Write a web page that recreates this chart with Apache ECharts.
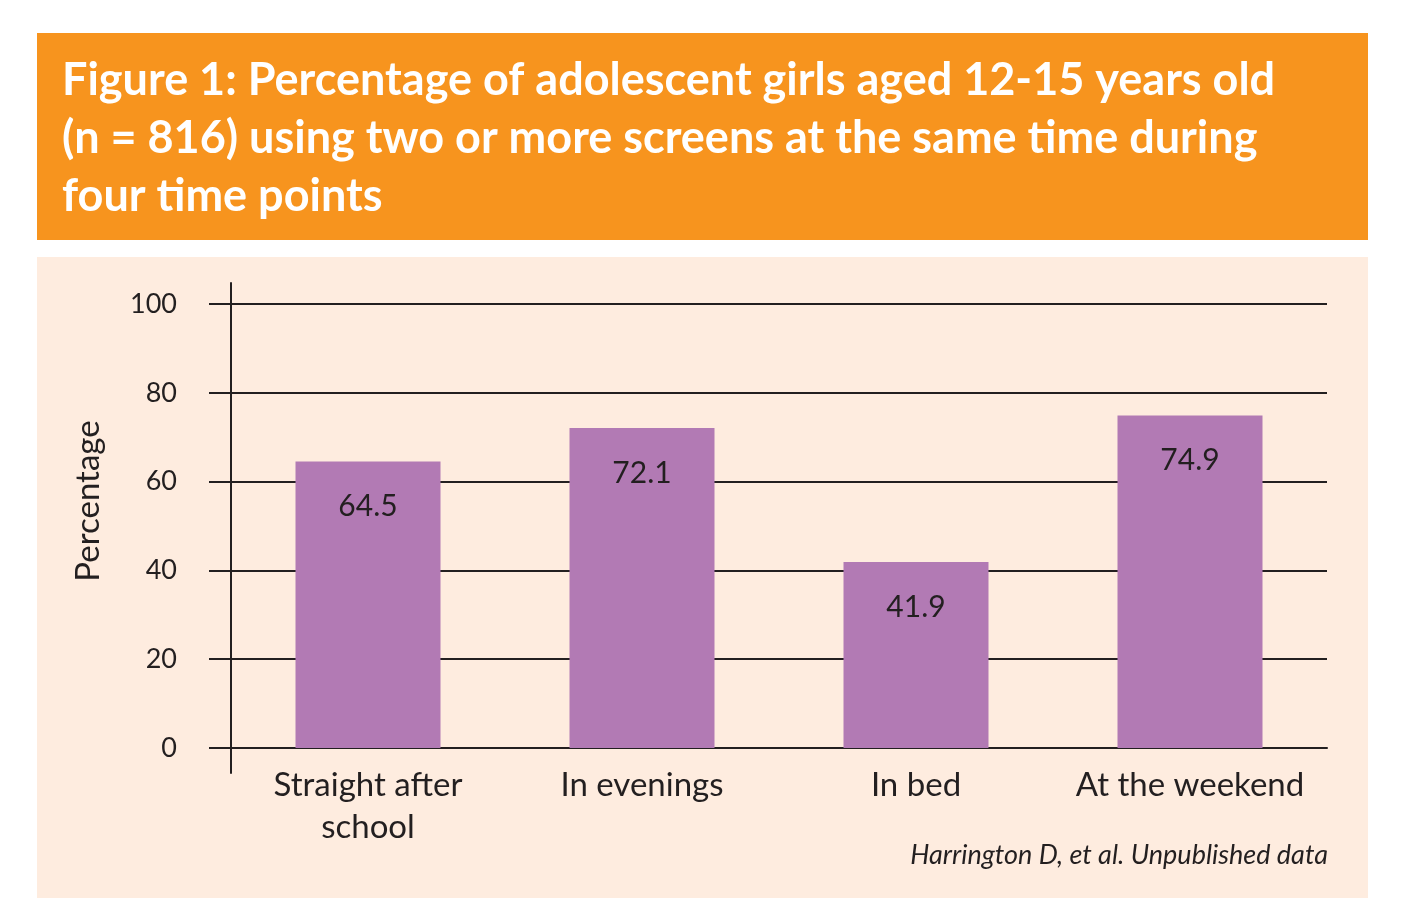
<!DOCTYPE html>
<html>
<head>
<meta charset="utf-8">
<script src="https://cdn.jsdelivr.net/npm/echarts@6/dist/echarts.min.js"></script>
<style>
html,body{margin:0;padding:0;background:#ffffff;}
#chart{width:1406px;height:900px;}
</style>
</head>
<body>
<div id="chart"></div>
<script>
var titleText = 'Figure 1: Percentage of adolescent girls aged 12-15 years old\n(n = 816) using two or more screens at the same time during\nfour time points';
var categories = ['Straight after\nschool', 'In evenings', 'In bed', 'At the weekend'];
var values = [64.5, 72.1, 41.9, 74.9];
var yTicks = [0, 20, 40, 60, 80, 100];
var yAxisName = 'Percentage';
var sourceText = 'Harrington D, et al. Unpublished data';

var dark = '#231f20';
var font = 'Lato';
var chart = echarts.init(document.getElementById('chart'));
chart.setOption({
  backgroundColor: '#ffffff',
  animation: false,
  title: {
    text: titleText,
    left: 62, top: 51, padding: 0,
    textStyle: { color: '#ffffff', fontFamily: font, fontWeight: 'bold', fontSize: 45, lineHeight: 58 }
  },
  graphic: [
    { type: 'rect', z: -10, silent: true, shape: { x: 37, y: 33, width: 1331, height: 207 }, style: { fill: '#f7941e' } },
    { type: 'rect', z: -10, silent: true, shape: { x: 37, y: 257, width: 1331, height: 641 }, style: { fill: '#feecdf' } },
    { type: 'text', rotation: Math.PI / 2, x: 88, y: 501, style: { text: yAxisName, fontFamily: font, fontSize: 33, fill: dark, textAlign: 'center', textVerticalAlign: 'middle' } },
    { type: 'text', x: 1328, y: 855, style: { text: sourceText, fontFamily: font, fontStyle: 'italic', fontSize: 27, fill: dark, textAlign: 'right', textVerticalAlign: 'middle' } }
  ],
  grid: [
    { left: 231, right: 79, top: 304, bottom: 152 },
    { left: 231, right: 79, top: 283, bottom: 127 }
  ],
  xAxis: [
    {
      type: 'category', gridIndex: 0, data: categories, boundaryGap: true,
      axisLine: { show: true, lineStyle: { color: dark, width: 2 } },
      axisTick: { show: false },
      axisLabel: { color: dark, fontFamily: font, fontSize: 33, lineHeight: 42, margin: 16, interval: 0 }
    },
    { type: 'value', gridIndex: 1, min: 0, max: 1, show: false }
  ],
  yAxis: [
    {
      type: 'value', gridIndex: 0, min: 0, max: 100, interval: 20,
      axisLine: { show: false },
      axisTick: { show: true, length: 22, inside: false, lineStyle: { color: dark, width: 2 } },
      splitLine: { show: true, lineStyle: { color: dark, width: 2 } },
      axisLabel: { color: dark, fontFamily: font, fontSize: 27, margin: 54,
        formatter: function (v) { return yTicks.indexOf(v) >= 0 ? String(v) : ''; } }
    },
    {
      type: 'value', gridIndex: 1, min: 0, max: 1,
      axisLine: { show: true, lineStyle: { color: dark, width: 2 } },
      axisTick: { show: false }, axisLabel: { show: false }, splitLine: { show: false }
    }
  ],
  series: [{
    type: 'bar', xAxisIndex: 0, yAxisIndex: 0,
    data: values,
    barWidth: 145,
    itemStyle: { color: '#b27ab4' },
    label: { show: true, position: 'insideTop', distance: 30, color: dark, fontFamily: font, fontSize: 30 }
  }]
});
</script>
</body>
</html>
